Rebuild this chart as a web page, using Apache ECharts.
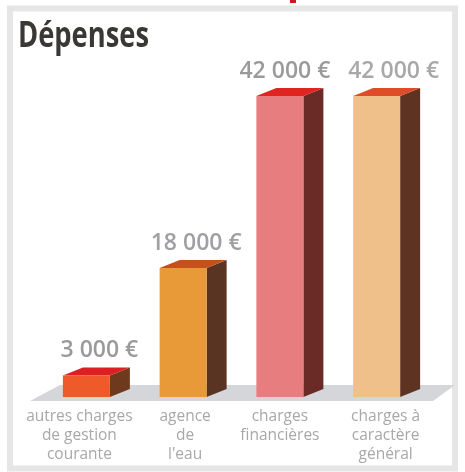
<!DOCTYPE html>
<html><head><meta charset="utf-8">
<style>html,body{margin:0;padding:0;background:#fff}#c{width:465px;height:472px}</style>
<script src="https://cdn.jsdelivr.net/npm/echarts@6/dist/echarts.min.js"></script>
</head><body><div id="c"></div>
<script>
const categories = ['autres charges\nde gestion\ncourante', 'agence\nde\nl\'eau', 'charges\nfinancières', 'charges à\ncaractère\ngénéral'];
const values = [3000, 18000, 42000, 42000];
const valueLabels = ['3 000 €', '18 000 €', '42 000 €', '42 000 €'];

const frontColors = ['#ee5a2a', '#e89a38', '#e87d7f', '#f0c08a'];
const topColors = ['#dc1f22', '#c4501c', '#e0241f', '#de4c28'];
const sideColors = ['#6e3a1e', '#5a3422', '#6a2a26', '#5e3322'];
const labelShift = [13, 13, 5, 17];
const labelColors = ['#9a9a9a', '#a0a0a4', '#9a9a9a', '#a8a8a8'];
const axisLabelPadding = [[0, 14, 0, 0], [0, 0, 0, 4], [0, 0, 0, 0], [0, 0, 0, 18]];
const DEPTH_X = 20, DEPTH_Y = 8, BAR_W = 47;

const chart = echarts.init(document.getElementById('c'), null, {renderer: 'canvas'});

function renderFloor(params) {
  const cs = params.coordSys, b = cs.y + cs.height;
  return {type: 'polygon', silent: true, shape: {points: [
    [cs.x - 8, b + 4], [cs.x + 22, b - 12], [cs.x + cs.width + 30, b - 12],
    [cs.x + cs.width + 8, b + 4]
  ]}, style: {fill: '#d4d6da'}};
}

function renderBar(params, api) {
  const i = api.value(0);
  const top = api.coord([i, api.value(1)]);
  const base = api.coord([i, 0]);
  const l = top[0] - BAR_W / 2, r = top[0] + BAR_W / 2;
  return {type: 'group', children: [
    {type: 'polygon', shape: {points: [[r, top[1]], [r + DEPTH_X, top[1] - DEPTH_Y], [r + DEPTH_X, base[1] - DEPTH_Y], [r, base[1]]]}, style: {fill: sideColors[i]}},
    {type: 'polygon', shape: {points: [[l, top[1]], [l + DEPTH_X, top[1] - DEPTH_Y], [r + DEPTH_X, top[1] - DEPTH_Y], [r, top[1]]]}, style: {fill: topColors[i]}},
    {type: 'rect', shape: {x: l, y: top[1], width: BAR_W, height: base[1] - top[1]}, style: {fill: frontColors[i]}},
    {type: 'text', style: {text: valueLabels[i], x: top[0] + labelShift[i], y: top[1] - DEPTH_Y - 17, align: 'center', verticalAlign: 'middle',
      font: '600 23px "Open Sans", sans-serif', fill: labelColors[i]}}
  ]};
}

chart.setOption({
  animation: false,
  backgroundColor: '#ffffff',
  grid: {left: 38, width: 387, top: 96, height: 301},
  xAxis: {type: 'category',
    data: categories.map((c, i) => ({value: c, textStyle: {padding: axisLabelPadding[i]}})),
    axisLine: {show: false}, axisTick: {show: false},
    axisLabel: {interval: 0, margin: 10, lineHeight: 19, fontSize: 15.5, fontFamily: '"Open Sans", sans-serif', color: '#a8a8a8'}},
  yAxis: {type: 'value', min: 0, max: 42000, show: false, splitLine: {show: false}},
  series: [
    {type: 'custom', renderItem: renderFloor, data: [[0, 0]], silent: true, clip: false, z: 1, encode: {x: 0, y: 1}},
    {type: 'custom', renderItem: renderBar, data: values.map((v, i) => [i, v]), clip: false, z: 2, encode: {x: 0, y: 1}}
  ],
  graphic: [
    {type: 'rect', silent: true, shape: {x: 10, y: 8.5, width: 445, height: 460}, style: {fill: 'none', stroke: '#e6e6e6', lineWidth: 6}},
    {type: 'rect', silent: true, shape: {x: 290, y: 0, width: 6, height: 3}, style: {fill: '#d8141c'}},
    {type: 'text', silent: true, x: 18, y: 20, scaleX: 0.78, style: {text: 'Dépenses', font: 'bold 35px "Open Sans", sans-serif', fill: '#3a3835'}}
  ]
});
</script></body></html>
